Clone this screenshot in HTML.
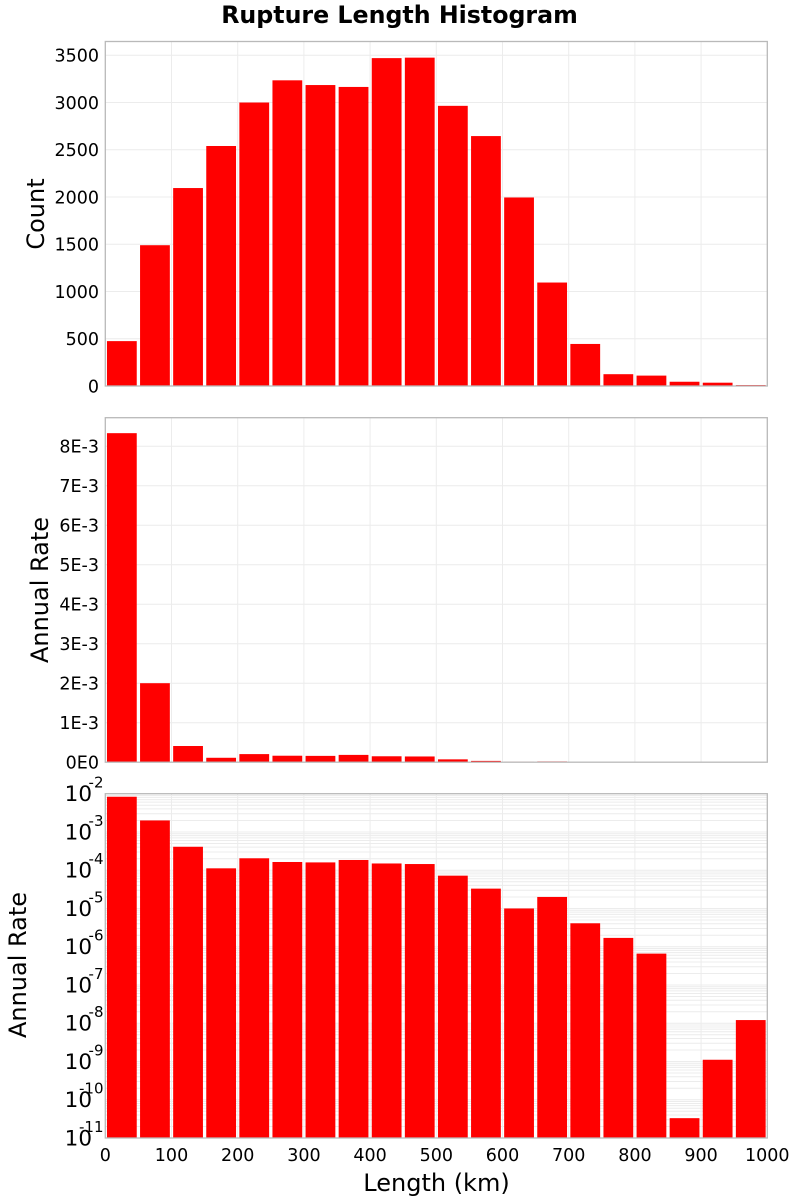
<!DOCTYPE html>
<html lang="en">
<head>
<meta charset="utf-8">
<title>Rupture Length Histogram</title>
<style>
html,body{margin:0;padding:0;background:#fff;width:800px;height:1200px;overflow:hidden}
svg{display:block;font-family:"DejaVu Sans","Liberation Sans",sans-serif}
</style>
</head>
<body>
<svg id="chart" xmlns="http://www.w3.org/2000/svg" width="800" height="1200" viewBox="0 0 800 1200">
<rect x="0" y="0" width="800" height="1200" fill="#ffffff"/>
<text x="399.5" y="23" font-size="23.7" font-weight="bold" text-anchor="middle" fill="#000">Rupture Length Histogram</text>
<text transform="translate(44 214) rotate(-90)" font-size="24" text-anchor="middle" fill="#000">Count</text>
<text transform="translate(48 590) rotate(-90)" font-size="24" text-anchor="middle" fill="#000">Annual Rate</text>
<text transform="translate(26 965) rotate(-90)" font-size="24" text-anchor="middle" fill="#000">Annual Rate</text>
<text x="436.5" y="1191" font-size="24" text-anchor="middle" fill="#000">Length (km)</text>
</svg>
<script>
const binCenters = [25,75,125,175,225,275,325,375,425,475,525,575,625,675,725,775,825,875,925,975];
const countValues = [475,1490,2095,2540,3000,3235,3185,3165,3470,3475,2965,2645,1995,1095,445,125,110,45,35,10];
const rateValues = [8.33e-3,2.0e-3,4.1e-4,1.12e-4,2.05e-4,1.64e-4,1.6e-4,1.85e-4,1.5e-4,1.45e-4,7.2e-5,3.3e-5,1e-5,2e-5,4.1e-6,1.7e-6,6.6e-7,3.3e-11,1.11e-9,1.21e-8];
const xTicks = [0,100,200,300,400,500,600,700,800,900,1000];
const countTicks = [0,500,1000,1500,2000,2500,3000,3500];
const linearRateTicks = [0,1e-3,2e-3,3e-3,4e-3,5e-3,6e-3,7e-3,8e-3];
const linearRateLabels = ["0E0","1E-3","2E-3","3E-3","4E-3","5E-3","6E-3","7E-3","8E-3"];
const logExponents = [-2,-3,-4,-5,-6,-7,-8,-9,-10,-11];
const logMinorFactors = [2,3,4,5,6,7,8,9];
const binWidth = 50;

const svg = document.getElementById('chart');
const NS = 'http://www.w3.org/2000/svg';
const plotLeft = 105.3, plotRight = 767.3;
const xScale = v => plotLeft + (v / 1000) * (plotRight - plotLeft);

const countPanel = {top: 41.5, bottom: 386};
const linearPanel = {top: 417.7, bottom: 762.2};
const logPanel = {top: 793.7, bottom: 1138};
const countY = v => countPanel.bottom - v * 0.09449;
const linearY = v => linearPanel.bottom - v * 39500;
const logY = v => logPanel.top + (-2 - Math.log10(v)) * (logPanel.bottom - logPanel.top) / 9;

function shape(tag, attrs, parent) {
  const el = document.createElementNS(NS, tag);
  for (const k in attrs) el.setAttribute(k, attrs[k]);
  (parent || svg).appendChild(el);
  return el;
}
function gridLine(x1, y1, x2, y2, name) {
  const el = shape('line', {x1: x1, y1: y1, x2: x2, y2: y2, stroke: '#ececec', 'stroke-width': 1});
  
  
}
function verticalGrid(panel, prefix) {
  xTicks.slice(1, -1).forEach(t => {
    gridLine(xScale(t), panel.top, xScale(t), panel.bottom, prefix + '-x-gridline-' + t);
  });
}
function drawBar(panel, center, topY, name) {
  const x0 = xScale(center - binWidth * 0.45);
  const x1 = xScale(center + binWidth * 0.45);
  const y = Math.max(topY, panel.top);
  const el = shape('rect', {x: x0, y: y, width: x1 - x0, height: Math.max(panel.bottom - y, 0), fill: '#ff0000'});
  
  
}
function drawFrame(panel, name) {
  const el = shape('rect', {x: plotLeft, y: panel.top, width: plotRight - plotLeft, height: panel.bottom - panel.top, fill: 'none', stroke: '#b9b9b9', 'stroke-width': 1.3});
  
  
}
function label(x, y, text, size, anchor, name) {
  const el = shape('text', {x: x, y: y, 'font-size': size, 'text-anchor': anchor, fill: '#000'});
  el.textContent = text;
  
  
}

/* count panel */
verticalGrid(countPanel, 'count');
countTicks.slice(1).forEach(t => {
  gridLine(plotLeft, countY(t), plotRight, countY(t), 'count-y-gridline-' + t);
});
countValues.forEach((v, i) => {
  drawBar(countPanel, binCenters[i], countY(v), 'count-bar-' + binCenters[i]);
});
drawFrame(countPanel, 'count-plot-frame');
countTicks.forEach(t => {
  label(99, countY(t) + 6.3, String(t), 17.5, 'end', 'count-tick-label-' + t);
});

/* linear annual rate panel */
verticalGrid(linearPanel, 'linear-rate');
linearRateTicks.slice(1).forEach((t, i) => {
  gridLine(plotLeft, linearY(t), plotRight, linearY(t), 'linear-rate-y-gridline-' + (i + 1));
});
rateValues.forEach((v, i) => {
  drawBar(linearPanel, binCenters[i], linearY(v), 'linear-rate-bar-' + binCenters[i]);
});
drawFrame(linearPanel, 'linear-rate-plot-frame');
linearRateTicks.forEach((t, i) => {
  label(99, linearY(t) + 6.3, linearRateLabels[i], 17.5, 'end', 'linear-rate-tick-label-' + i);
});

/* log annual rate panel */
verticalGrid(logPanel, 'log-rate');
logExponents.slice(1).forEach(e => {
  gridLine(plotLeft, logY(Math.pow(10, e)), plotRight, logY(Math.pow(10, e)), 'log-rate-major-gridline-' + e);
});
logExponents.slice(1).forEach(e => {
  logMinorFactors.forEach(f => {
    const v = f * Math.pow(10, e);
    gridLine(plotLeft, logY(v), plotRight, logY(v), 'log-rate-minor-gridline-' + f + 'e' + e);
  });
});
rateValues.forEach((v, i) => {
  drawBar(logPanel, binCenters[i], logY(v), 'log-rate-bar-' + binCenters[i]);
});
drawFrame(logPanel, 'log-rate-plot-frame');
logExponents.forEach(e => {
  const y = logY(Math.pow(10, e));
  label(92, y + 7.4, '10', 21.5, 'end', 'log-rate-tick-base-' + e);
  label(103.5, y - 6, String(e), 15, 'end', 'log-rate-tick-exponent-' + e);
});

/* shared x axis labels */
xTicks.forEach(t => {
  label(xScale(t), 1161, String(t), 17.5, 'middle', 'x-tick-label-' + t);
});
</script>
</body>
</html>
